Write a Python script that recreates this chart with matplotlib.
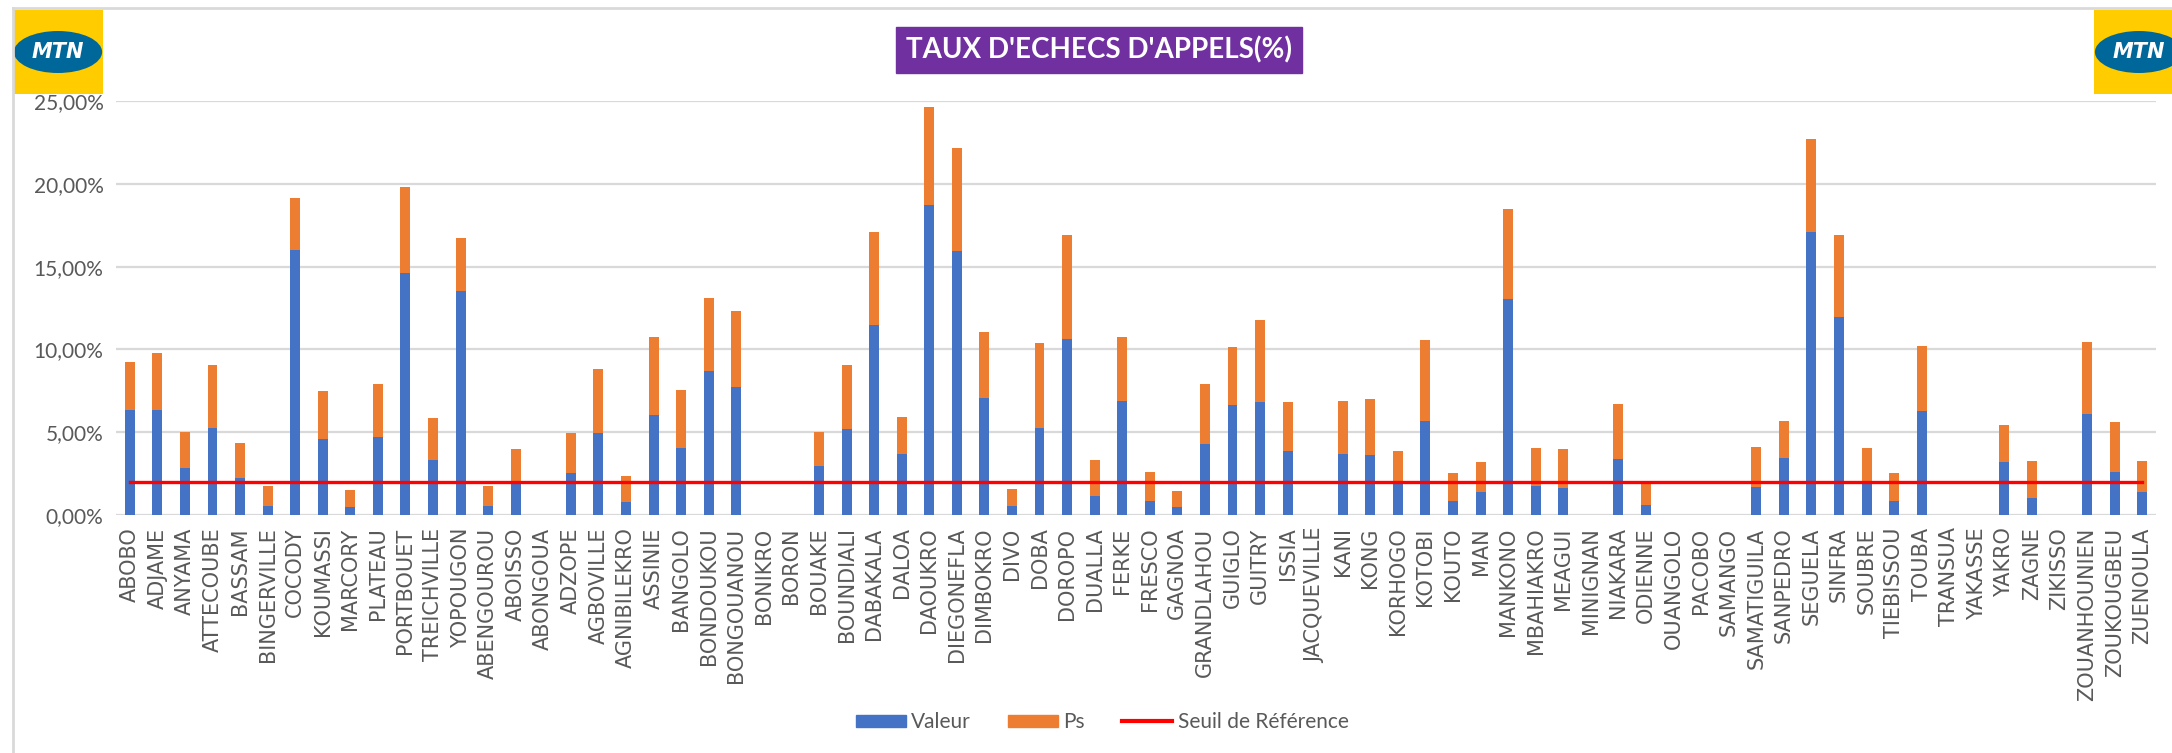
import matplotlib
matplotlib.use("Agg")
import matplotlib.pyplot as plt
from matplotlib.patches import Rectangle, Ellipse, Patch
from matplotlib.lines import Line2D
from matplotlib.ticker import FuncFormatter

categories = ["ABOBO", "ADJAME", "ANYAMA", "ATTECOUBE", "BASSAM", "BINGERVILLE", "COCODY",
              "KOUMASSI", "MARCORY", "PLATEAU", "PORTBOUET", "TREICHVILLE", "YOPOUGON",
              "ABENGOUROU", "ABOISSO", "ABONGOUA", "ADZOPE", "AGBOVILLE", "AGNIBILEKRO",
              "ASSINIE", "BANGOLO", "BONDOUKOU", "BONGOUANOU", "BONIKRO", "BORON", "BOUAKE",
              "BOUNDIALI", "DABAKALA", "DALOA", "DAOUKRO", "DIEGONEFLA", "DIMBOKRO", "DIVO",
              "DOBA", "DOROPO", "DUALLA", "FERKE", "FRESCO", "GAGNOA", "GRANDLAHOU", "GUIGLO",
              "GUITRY", "ISSIA", "JACQUEVILLE", "KANI", "KONG", "KORHOGO", "KOTOBI", "KOUTO",
              "MAN", "MANKONO", "MBAHIAKRO", "MEAGUI", "MINIGNAN", "NIAKARA", "ODIENNE",
              "OUANGOLO", "PACOBO", "SAMANGO", "SAMATIGUILA", "SANPEDRO", "SEGUELA", "SINFRA",
              "SOUBRE", "TIEBISSOU", "TOUBA", "TRANSUA", "YAKASSE", "YAKRO", "ZAGNE", "ZIKISSO",
              "ZOUANHOUNIEN", "ZOUKOUGBEU", "ZUENOULA"]

# "Valeur" (blue, bottom segment), in %
valeur = [6.32, 6.32, 2.81, 5.28, 2.23, 0.57, 16.01,
          4.57, 0.49, 4.70, 14.64, 3.34, 13.54,
          0.57, 1.95, 0.0, 2.53, 4.94, 0.77,
          6.03, 4.07, 8.70, 7.71, 0.0, 0.0, 2.96,
          5.22, 11.50, 3.70, 18.72, 15.93, 7.04, 0.57,
          5.28, 10.63, 1.15, 6.90, 0.83, 0.49, 4.27, 6.62,
          6.82, 3.85, 0.0, 3.70, 3.60, 1.90, 5.65, 0.85,
          1.36, 13.04, 1.74, 1.66, 0.0, 3.40, 0.63,
          0.0, 0.0, 0.0, 1.72, 3.46, 17.11, 11.98,
          1.90, 0.85, 6.26, 0.0, 0.0, 3.18, 1.05, 0.0,
          6.11, 2.59, 1.36]

# Total height (Valeur + Ps), in %
total = [9.23, 9.80, 5.00, 9.07, 4.35, 1.78, 19.15,
         7.47, 1.50, 7.91, 19.80, 5.87, 16.74,
         1.78, 3.97, 0.0, 4.94, 8.79, 2.37,
         10.75, 7.55, 13.10, 12.29, 0.0, 0.0, 5.00,
         9.07, 17.11, 5.93, 24.62, 22.15, 11.03, 1.58,
         10.38, 16.88, 3.32, 10.75, 2.59, 1.42, 7.91, 10.16,
         11.78, 6.80, 0.0, 6.90, 7.02, 3.89, 10.55, 2.51,
         3.18, 18.50, 4.05, 3.97, 0.0, 6.68, 1.92,
         0.0, 0.0, 0.0, 4.13, 5.65, 22.73, 16.88,
         4.05, 2.51, 10.18, 0.0, 0.0, 5.45, 3.26, 0.0,
         10.47, 5.59, 3.26]

ps = [round(t - v, 2) for t, v in zip(total, valeur)]
seuil = 2.0

yticks = [0, 5, 10, 15, 20, 25]

BLUE = "#4472C4"
ORANGE = "#ED7D31"
GRID = "#D9D9D9"
TXT = "#595959"

W, H = 2172, 753
fig = plt.figure(figsize=(W / 100, H / 100), dpi=100)
fig.patch.set_facecolor("white")


def fx(px):
    return px / W


def fy(py):
    return 1 - py / H


# outer border (top and left)
fig.add_artist(Line2D([fx(13), fx(2172)], [fy(8), fy(8)], color=GRID, lw=2))
fig.add_artist(Line2D([fx(13), fx(13)], [fy(8), fy(753)], color=GRID, lw=2))

ax = fig.add_axes([fx(116), fy(515), fx(2156) - fx(116), fy(101) - fy(515)])
x = list(range(len(categories)))
ax.bar(x, valeur, width=0.36, color=BLUE, zorder=3, label="Valeur")
ax.bar(x, ps, width=0.36, bottom=valeur, color=ORANGE, zorder=3, label="Ps")
ax.plot(x, [seuil] * len(x), color="#FF0000", lw=2.4, zorder=4, label="Seuil de Référence")

ax.set_xlim(-0.5, len(categories) - 0.5)
ax.set_ylim(0, 25)
ax.set_yticks(yticks)
ax.yaxis.set_major_formatter(FuncFormatter(lambda v, p: f"{v:.2f}".replace(".", ",") + "%"))
ax.grid(axis="y", color=GRID, lw=1.6, zorder=0)
for s in ax.spines.values():
    s.set_visible(False)
ax.tick_params(axis="both", length=0)
ax.tick_params(axis="y", labelsize=15, labelcolor=TXT, pad=9)
for lab in ax.get_yticklabels():
    lab.set_fontfamily("Lato")
ax.set_xticks(x)
ax.set_xticklabels(categories, rotation=90, fontsize=15, color=TXT, family="DejaVu Sans")
ax.tick_params(axis="x", pad=9)

# Title box
fig.text(fx(1099), fy(50), "TAUX D'ECHECS D'APPELS(%)", ha="center", va="center",
         color="white", fontsize=20, fontweight="bold", family="Lato",
         bbox=dict(boxstyle="square,pad=0.35", facecolor="#7030A0", edgecolor="#7030A0"))

# Legend
handles = [Patch(facecolor=BLUE, edgecolor=BLUE, label="Valeur"),
           Patch(facecolor=ORANGE, edgecolor=ORANGE, label="Ps"),
           Line2D([0], [0], color="#FF0000", lw=3, label="Seuil de Référence")]
leg = fig.legend(handles=handles, loc="center", bbox_to_anchor=(fx(1102), fy(722)), ncol=3,
                 frameon=False, prop={"family": "Lato", "size": 15}, handlelength=2.4,
                 handleheight=0.5, handletextpad=0.25, columnspacing=1.8)
for t in leg.get_texts():
    t.set_color(TXT)


# MTN logos
def logo(x0, y0, w, h):
    lax = fig.add_axes([fx(x0), fy(y0 + h), w / W, h / H])
    lax.set_xlim(0, 1)
    lax.set_ylim(0, 1)
    lax.axis("off")
    lax.add_patch(Rectangle((0, 0), 1, 1, facecolor="#FFCC00", edgecolor="none"))
    lax.add_patch(Ellipse((0.5, 0.5), 0.98, 0.5, facecolor="#00679A", edgecolor="none"))
    lax.text(0.5, 0.5, "MTN", ha="center", va="center", color="white", fontsize=15,
             fontweight="bold", style="italic", family="DejaVu Sans")


logo(13, 10, 90, 84)
logo(2094, 10, 90, 84)

fig.savefig("out.png", dpi=100, facecolor="white")
